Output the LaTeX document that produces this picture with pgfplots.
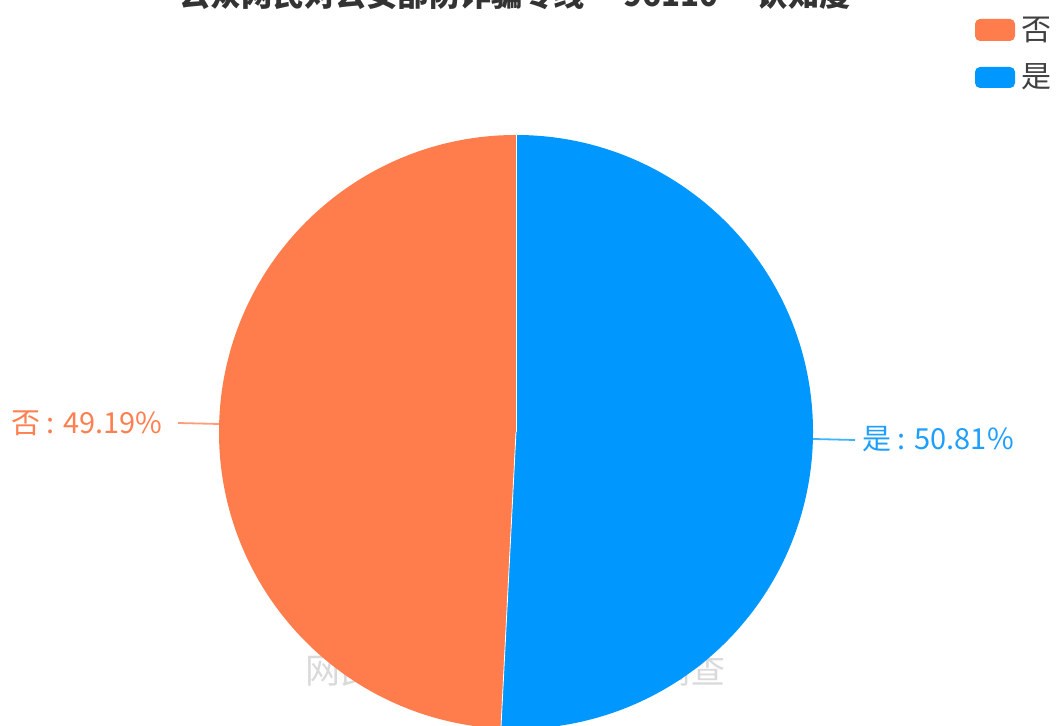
\documentclass[border=0pt]{standalone}
\usepackage{pgfplots}
\pgfplotsset{compat=1.18}
\usepackage{fontspec}
\setmainfont{Noto Sans CJK SC}
\definecolor{cA}{HTML}{0098FF}
\definecolor{cB}{HTML}{FF7C4C}
\definecolor{tA}{HTML}{1E9FFF}
\definecolor{tB}{HTML}{FF7F50}
\definecolor{wm}{HTML}{DADADA}
\def\valA{50.81}
\def\valB{49.19}
\begin{document}
\begin{tikzpicture}
\pgfmathsetmacro{\angA}{90-3.6*\valA}
\begin{axis}[
  scale only axis, width=528.5pt, height=363pt,
  xmin=0, xmax=1057, ymin=0, ymax=726,
  hide axis, clip=false, name=ax]
% watermark behind the pie
\node[text=wm, font=\fontsize{17.5pt}{20pt}\selectfont, anchor=center] at (axis cs:515,56) {网民网络安全感满意度调查};
% pie
\fill[cA] (axis cs:516,294) -- ++(90:148.5pt) arc[start angle=90, end angle=\angA, radius=148.5pt] -- cycle;
\fill[cB] (axis cs:516,294) -- ++(\angA:148.5pt) arc[start angle=\angA, end angle=-270, radius=148.5pt] -- cycle;
\draw[white, line width=0.4pt] (axis cs:516,294) -- ++(90:148.5pt);
\draw[white, line width=0.4pt] (axis cs:516,294) -- ++(\angA:148.5pt);
% leader lines and labels
\draw[cA!75!white, line width=0.9pt] (axis cs:813,287) -- (axis cs:855,286);
\node[text=tA, font=\fontsize{14.5pt}{17pt}\selectfont, anchor=west, inner sep=0pt] at (axis cs:862,287) {是 : 50.81\%};
\draw[cB!75!white, line width=0.9pt] (axis cs:219,302) -- (axis cs:178,303);
\node[text=tB, font=\fontsize{14.5pt}{17pt}\selectfont, anchor=east, inner sep=0pt] at (axis cs:163,303) {否 : 49.19\%};
% legend
\fill[cB, rounded corners=2.5pt] (axis cs:975,685) rectangle (axis cs:1015,707);
\node[text=black!75, font=\fontsize{15pt}{17pt}\selectfont, anchor=west, inner sep=0pt] at (axis cs:1021,696) {否};
\fill[cA, rounded corners=2.5pt] (axis cs:975,638) rectangle (axis cs:1015,659);
\node[text=black!75, font=\fontsize{15pt}{17pt}\selectfont, anchor=west, inner sep=0pt] at (axis cs:1021,649) {是};
% title (cut at top, as in the reference)
\node[text=black!80, font=\bfseries\fontsize{15.6pt}{18pt}\selectfont, anchor=base, inner sep=0pt] at (axis cs:515,719) {公众网民对公安部防诈骗专线\ “96110”\ 认知度};
\end{axis}
\pgfresetboundingbox
\useasboundingbox (ax.south west) rectangle (ax.north east);
\end{tikzpicture}
\end{document}
